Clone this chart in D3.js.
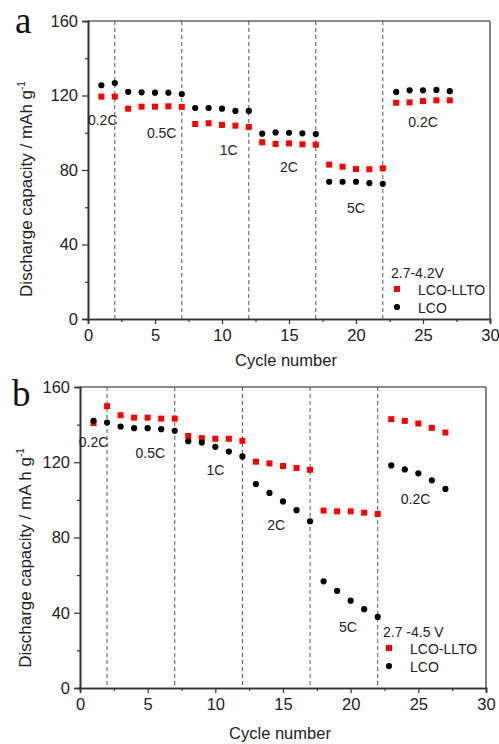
<!DOCTYPE html>
<html>
<head>
<meta charset="utf-8">
<script src="https://cdn.jsdelivr.net/npm/d3@7"></script>
<style>
  html, body { margin: 0; padding: 0; background: #fff; }
  svg { display: block; }
  text { font-family: "Liberation Sans", Arial, sans-serif; fill: #222; }
</style>
</head>
<body>
<svg id="chart" width="499" height="744"></svg>
<script>
// ---------- data ----------
const cycles = [1,2,3,4,5,6,7,8,9,10,11,12,13,14,15,16,17,18,19,20,21,22,23,24,25,26,27];

// Panel a (2.7-4.2 V)
const lltoA = [119.4,119.4,112.9,114.0,114.0,114.2,113.9,
               104.7,105.1,104.2,103.8,103.1,
               94.9,94.0,94.3,93.8,93.6,
               82.9,81.8,80.5,80.4,80.9,
               116.1,116.3,117.0,117.4,117.4];
const lcoA  = [125.5,126.7,122.0,121.7,121.5,121.5,120.8,
               113.3,113.3,112.9,111.7,111.7,
               99.5,100.2,100.0,99.7,99.3,
               73.7,73.7,73.7,73.0,72.6,
               121.9,122.8,122.8,123.0,122.3];

// Panel b (2.7-4.5 V)
const lltoB = [140.8,149.8,145.0,143.7,143.7,143.2,143.2,
               134.0,132.8,132.5,132.5,131.4,
               120.3,119.4,118.0,116.9,116.0,
               94.3,93.9,93.9,93.2,92.5,
               142.9,142.0,140.6,138.3,135.8];
const lcoB  = [142.0,141.1,139.0,138.1,138.1,137.6,136.7,
               131.2,130.5,128.2,125.7,123.1,
               108.4,103.7,99.2,94.5,88.6,
               56.7,51.6,46.4,41.9,37.8,
               118.3,116.2,114.1,110.4,105.8];

const xTicks = [0,5,10,15,20,25,30];
const xMinor = [2.5,7.5,12.5,17.5,22.5,27.5];
const yTicks = [0,40,80,120,160];
const yMinor = [20,60,100,140];
const dividers = [2,7,12,17,22];
const seriesNames = ["LCO-LLTO","LCO"];

const rateLabelsA = [
  {t:"0.2C", c:1.1, v:104}, {t:"0.5C", c:5.5, v:97}, {t:"1C", c:10.5, v:88},
  {t:"2C", c:15.0, v:79}, {t:"5C", c:20.0, v:57}, {t:"0.2C", c:25.0, v:103}
];
const rateLabelsB = [
  {t:"0.2C", c:1.0, v:128}, {t:"0.5C", c:5.2, v:122}, {t:"1C", c:10.0, v:113},
  {t:"2C", c:14.5, v:84}, {t:"5C", c:19.8, v:30}, {t:"0.2C", c:24.8, v:98}
];

// ---------- layout ----------
const panels = [
  { letter:"a", left:88, right:490, top:21, bottom:319,
    red:lltoA, black:lcoA, labels:rateLabelsA,
    ylab:"Discharge capacity / mAh g", ylabX:32, ylabY:189,
    letterX:15, letterY:33, xTitleOff:47,
    legendTitle:"2.7-4.2V", legX:391, legY:278 },
  { letter:"b", left:80, right:486, top:387, bottom:688,
    red:lltoB, black:lcoB, labels:rateLabelsB,
    ylab:"Discharge capacity / mA h g", ylabX:31, ylabY:558,
    letterX:12, letterY:406, xTitleOff:51,
    legendTitle:"2.7 -4.5 V", legX:383, legY:637 }
];

const svg = d3.select("#chart");
const axisCol = "#333";
const frameCol = "#666";
const red = "#ff0000";

panels.forEach(p => {
  const x = d3.scaleLinear().domain([0,30]).range([p.left, p.right]);
  const y = d3.scaleLinear().domain([0,160]).range([p.bottom, p.top]);
  const g = svg.append("g");

  // frame (top / right)
  g.append("line").attr("x1",p.left).attr("x2",p.right).attr("y1",p.top).attr("y2",p.top)
    .attr("stroke",frameCol).attr("stroke-width",1.6);
  g.append("line").attr("x1",p.right).attr("x2",p.right).attr("y1",p.top).attr("y2",p.bottom)
    .attr("stroke",frameCol).attr("stroke-width",1.6);

  // dashed dividers
  g.selectAll(".div").data(dividers).enter().append("line")
    .attr("x1",d=>x(d)).attr("x2",d=>x(d)).attr("y1",p.top).attr("y2",p.bottom)
    .attr("stroke","#555").attr("stroke-width",1).attr("stroke-dasharray","4,3");

  // axes
  const xAx = g.append("g").attr("transform",`translate(0,${p.bottom})`)
    .call(d3.axisBottom(x).tickValues(xTicks).tickSize(5).tickPadding(5).tickFormat(d3.format("d")));
  const xAxm = g.append("g").attr("transform",`translate(0,${p.bottom})`)
    .call(d3.axisBottom(x).tickValues(xMinor).tickSize(3).tickFormat(""));
  const yAx = g.append("g").attr("transform",`translate(${p.left},0)`)
    .call(d3.axisLeft(y).tickValues(yTicks).tickSize(6).tickPadding(4).tickFormat(d3.format("d")));
  const yAxm = g.append("g").attr("transform",`translate(${p.left},0)`)
    .call(d3.axisLeft(y).tickValues(yMinor).tickSize(3).tickFormat(""));
  [xAx,xAxm,yAx,yAxm].forEach(a => {
    a.select(".domain").attr("stroke",axisCol).attr("stroke-width",1.6);
    a.selectAll(".tick line").attr("stroke",axisCol).attr("stroke-width",1.2);
    a.selectAll("text").style("font-family","'Liberation Sans', Arial, sans-serif")
      .style("font-size","16.5px").attr("fill","#222");
  });

  // axis titles
  g.append("text").attr("x",(p.left+p.right)/2 - 3).attr("y",p.bottom+p.xTitleOff)
    .attr("text-anchor","middle").style("font-size","16.5px").text("Cycle number");
  const yt = g.append("text").attr("transform",`translate(${p.ylabX},${p.ylabY}) rotate(-90)`)
    .attr("text-anchor","middle").style("font-size","17px");
  yt.append("tspan").text(p.ylab);
  yt.append("tspan").attr("dy",-7).style("font-size","10px").text("-1");

  // panel letter
  g.append("text").attr("x",p.letterX).attr("y",p.letterY)
    .style("font-family","'Liberation Serif', 'Times New Roman', serif")
    .style("font-size","37px").style("fill","#111").text(p.letter);

  // data: red squares
  const s = 6;
  g.selectAll(".sq").data(cycles.map((c,i)=>({c, v:p.red[i]}))).enter().append("rect")
    .attr("x",d=>x(d.c)-s/2).attr("y",d=>y(d.v)-s/2).attr("width",s).attr("height",s)
    .attr("fill",red);
  g.selectAll(".ci").data(cycles.map((c,i)=>({c, v:p.black[i]}))).enter().append("circle")
    .attr("cx",d=>x(d.c)).attr("cy",d=>y(d.v)).attr("r",3.1).attr("fill","#000");

  // rate labels
  g.selectAll(".rl").data(p.labels).enter().append("text")
    .attr("x",d=>x(d.c)).attr("y",d=>y(d.v))
    .attr("text-anchor","middle").style("font-size","14px").text(d=>d.t);

  // legend
  g.append("text").attr("x",p.legX).attr("y",p.legY).style("font-size","14px").text(p.legendTitle);
  const lx = p.legX + 6;
  g.append("rect").attr("x",lx-s/2).attr("y",p.legY+11-s/2).attr("width",s).attr("height",s).attr("fill",red);
  g.append("text").attr("x",lx+21).attr("y",p.legY+17).style("font-size","14px").text(seriesNames[0]);
  g.append("circle").attr("cx",lx).attr("cy",p.legY+29).attr("r",3.1).attr("fill","#000");
  g.append("text").attr("x",lx+21).attr("y",p.legY+35).style("font-size","14px").text(seriesNames[1]);
});
</script>
</body>
</html>
